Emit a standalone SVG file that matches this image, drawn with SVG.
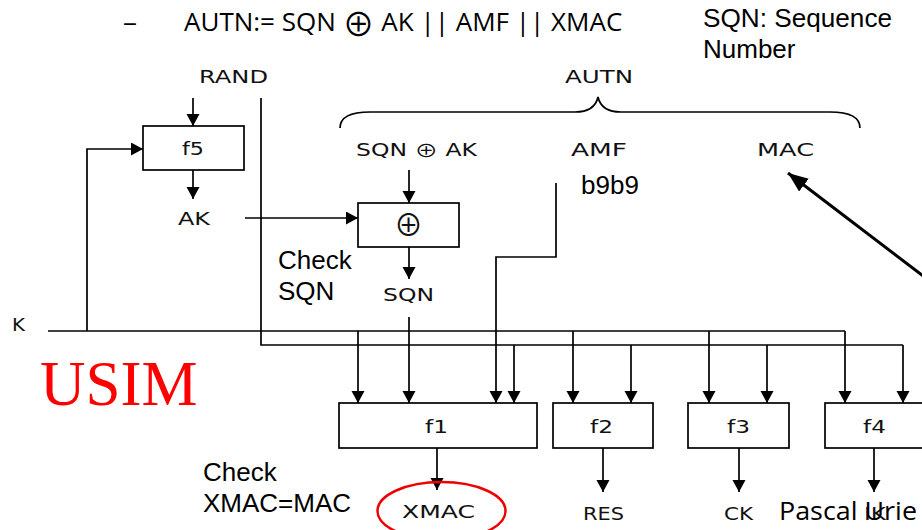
<svg xmlns="http://www.w3.org/2000/svg" width="922" height="530" viewBox="0 0 922 530">
<defs>
<style>
.ln{stroke:#000;stroke-width:1.7;fill:none}
.box{stroke:#000;stroke-width:1.7;fill:#fff}
.lab{font-family:"DejaVu Sans",sans-serif;font-size:17px;fill:#111}
.ar{font-family:"Liberation Sans",Arial,sans-serif;font-size:26px;fill:#000}
.cal{font-family:"Open Sans","Liberation Sans",sans-serif;font-size:26px;fill:#000}
.op{font-family:"Noto Sans CJK SC","DejaVu Sans ExtraLight",sans-serif}
.opbox{font-family:"Noto Sans CJK SC","DejaVu Sans ExtraLight",sans-serif;font-size:29px;fill:#111}
</style>
<marker id="ah" markerUnits="userSpaceOnUse" markerWidth="14" markerHeight="14" refX="12" refY="6.5" orient="auto" viewBox="0 0 14 14">
<path d="M0,0 L12,6.5 L0,13 z" fill="#000"/>
</marker>
<marker id="ahb" markerUnits="userSpaceOnUse" markerWidth="22" markerHeight="18" refX="20" refY="8" orient="auto" viewBox="0 0 22 18">
<path d="M0,0 L20,8 L0,16 z" fill="#000"/>
</marker>
</defs>
<rect width="922" height="530" fill="#fff"/>

<g id="header">
<text class="cal" x="123" y="31" textLength="14" lengthAdjust="spacingAndGlyphs">–</text>
<text class="cal" x="184" y="31">AUTN:= SQN <tspan class="op" font-size="32" dy="5">⊕</tspan><tspan dy="-5"> AK || AMF || XMAC</tspan></text>
<text class="ar" x="703" y="27" textLength="189" lengthAdjust="spacingAndGlyphs">SQN: Sequence</text>
<text class="ar" x="703" y="58">Number</text>
</g>

<g id="connectors">
<line class="ln" x1="193" y1="98" x2="193" y2="126" marker-end="url(#ah)"/>
<line class="ln" x1="193" y1="170" x2="193" y2="199" marker-end="url(#ah)"/>
<polyline class="ln" points="87,331 87,149 143,149" marker-end="url(#ah)"/>
<line class="ln" x1="245" y1="218" x2="358" y2="218" marker-end="url(#ah)"/>
<line class="ln" x1="409" y1="170" x2="409" y2="203" marker-end="url(#ah)"/>
<line class="ln" x1="409" y1="247" x2="409" y2="279" marker-end="url(#ah)"/>
<line class="ln" x1="48" y1="331" x2="845" y2="331"/>
<polyline class="ln" points="261,98 261,345 903,345"/>
<line class="ln" x1="358" y1="331" x2="358" y2="403" marker-end="url(#ah)"/>
<line class="ln" x1="573" y1="331" x2="573" y2="403" marker-end="url(#ah)"/>
<line class="ln" x1="709" y1="331" x2="709" y2="403" marker-end="url(#ah)"/>
<line class="ln" x1="845" y1="331" x2="845" y2="403" marker-end="url(#ah)"/>
<line class="ln" x1="514" y1="345" x2="514" y2="403" marker-end="url(#ah)"/>
<line class="ln" x1="631" y1="345" x2="631" y2="403" marker-end="url(#ah)"/>
<line class="ln" x1="767" y1="345" x2="767" y2="403" marker-end="url(#ah)"/>
<line class="ln" x1="903" y1="345" x2="903" y2="403" marker-end="url(#ah)"/>
<line class="ln" x1="409" y1="317" x2="409" y2="403" marker-end="url(#ah)"/>
<polyline class="ln" points="556,183 556,257 496,257 496,403" marker-end="url(#ah)"/>
<line class="ln" x1="437" y1="448" x2="437" y2="490" marker-end="url(#ah)"/>
<line class="ln" x1="603" y1="448" x2="603" y2="492" marker-end="url(#ah)"/>
<line class="ln" x1="739" y1="448" x2="739" y2="492" marker-end="url(#ah)"/>
<line class="ln" x1="874" y1="448" x2="874" y2="492" marker-end="url(#ah)"/>
<line x1="952" y1="298" x2="788" y2="173" stroke="#000" stroke-width="3" marker-end="url(#ahb)"/>
</g>

<g id="autn-brace">
<path class="ln" d="M340,128 C340,118 350,112 370,112 L575,112 C590,112 596,106 598,97 C600,106 606,112 621,112 L830,112 C850,112 860,118 860,128"/>
</g>

<g id="labels">
<text class="lab" x="199" y="83" textLength="69" lengthAdjust="spacingAndGlyphs">RAND</text>
<text class="lab" x="565" y="83" textLength="68" lengthAdjust="spacingAndGlyphs">AUTN</text>
<text class="lab" x="356" y="156" textLength="121" lengthAdjust="spacingAndGlyphs">SQN <tspan class="op" font-size="17" dy="1">⊕</tspan><tspan dy="-1"> AK</tspan></text>
<text class="lab" x="571" y="156" textLength="56" lengthAdjust="spacingAndGlyphs">AMF</text>
<text class="lab" x="757" y="156" textLength="57" lengthAdjust="spacingAndGlyphs">MAC</text>
<text class="lab" x="178" y="225" textLength="32" lengthAdjust="spacingAndGlyphs">AK</text>
<text class="lab" x="383" y="301" textLength="51" lengthAdjust="spacingAndGlyphs">SQN</text>
<text class="lab" x="12" y="331" textLength="13" lengthAdjust="spacingAndGlyphs">K</text>
<text class="lab" x="583" y="520" textLength="41" lengthAdjust="spacingAndGlyphs">RES</text>
<text class="lab" x="724" y="520" textLength="29" lengthAdjust="spacingAndGlyphs">CK</text>
<text class="lab" x="864" y="520" textLength="22" lengthAdjust="spacingAndGlyphs">IK</text>
<text class="ar" x="581" y="194">b9b9</text>
<text class="ar" x="278" y="269">Check</text>
<text class="ar" x="278" y="300">SQN</text>
<text class="ar" x="203" y="481">Check</text>
<text class="ar" x="203" y="512">XMAC=MAC</text>
<text x="40" y="405" font-family="'Liberation Serif',serif" font-size="63" fill="#f00">USIM</text>
</g>

<g id="f5">
<rect class="box" x="143" y="126" width="101" height="44"/>
<text class="lab" x="182" y="155" textLength="22" lengthAdjust="spacingAndGlyphs">f5</text>
</g>
<g id="xor">
<rect class="box" x="358" y="203" width="101" height="44"/>
<text class="opbox" x="408.5" y="236" text-anchor="middle">⊕</text>
</g>
<g id="f1">
<rect class="box" x="339" y="403" width="198" height="45"/>
<text class="lab" x="425" y="433" textLength="23" lengthAdjust="spacingAndGlyphs">f1</text>
</g>
<g id="f2">
<rect class="box" x="553" y="403" width="100" height="45"/>
<text class="lab" x="590" y="433" textLength="23" lengthAdjust="spacingAndGlyphs">f2</text>
</g>
<g id="f3">
<rect class="box" x="688" y="403" width="101" height="45"/>
<text class="lab" x="727" y="433" textLength="23" lengthAdjust="spacingAndGlyphs">f3</text>
</g>
<g id="f4">
<rect class="box" x="825" y="403" width="100" height="45"/>
<text class="lab" x="863" y="433" textLength="23" lengthAdjust="spacingAndGlyphs">f4</text>
</g>
<g id="xmac">
<ellipse cx="441.5" cy="511" rx="64" ry="29" fill="none" stroke="#e00" stroke-width="2.5"/>
<text class="lab" x="402" y="518" textLength="73" lengthAdjust="spacingAndGlyphs">XMAC</text>
</g>
<g id="footer">
<text class="cal" x="779" y="520" textLength="138" lengthAdjust="spacingAndGlyphs">Pascal Urie</text>
</g>
</svg>
